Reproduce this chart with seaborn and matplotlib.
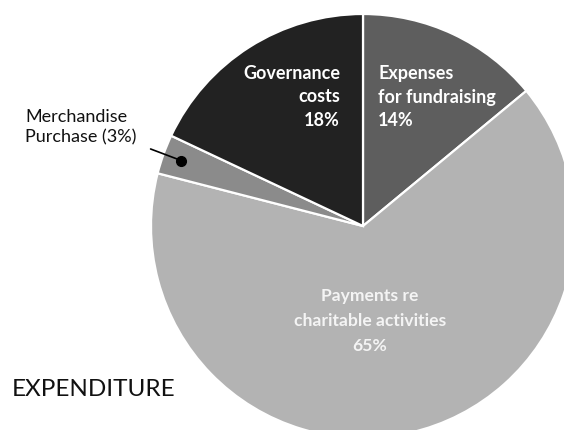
import numpy as np
import matplotlib
matplotlib.use("Agg")
import matplotlib.pyplot as plt
import seaborn as sns

# Data (clockwise from 12 o'clock)
categories = ["Expenses for fundraising", "Payments re charitable activities",
              "Merchandise Purchase", "Governance costs"]
shares = [14, 65, 3, 18]
colors = ["#5e5e5e", "#b3b3b3", "#8b8b8b", "#222222"]


def main():
    sns.set_theme(style="white")
    plt.rcParams["font.family"] = ["Lato", "DejaVu Sans"]

    W, H = 564, 430
    fig = plt.figure(figsize=(W / 100, H / 100), dpi=100)
    ax = fig.add_axes([0, 0, 1, 1])

    ax.pie(shares, colors=colors, startangle=90, counterclock=False,
           radius=1, wedgeprops=dict(edgecolor="white", linewidth=1.6))

    # pie centre at (363, 226) px, radius 212 px; edges clipped by the canvas
    cx, cy, r = 363, 226, 212
    ax.set_xlim(-cx / r, (W - cx) / r)
    ax.set_ylim(-(H - cy) / r, cy / r)
    ax.set_aspect("auto")
    ax.axis("off")

    def fx(x):
        return x / W

    def fy(y):
        return 1 - y / H

    bold = dict(fontsize=13, fontweight="bold", color="white",
                linespacing=1.45)
    fig.text(fx(340), fy(97), "Governance\ncosts\n18%", ha="right",
             va="center", multialignment="right", **bold)
    fig.text(fx(378), fy(97), "Expenses\nfor fundraising\n14%", ha="left",
             va="center", multialignment="left", **bold)
    fig.text(fx(370), fy(321), "Payments re\ncharitable activities\n65%",
             ha="center", va="center", multialignment="center",
             fontsize=12.6, fontweight="bold", color="#f4f4f4",
             linespacing=1.7)

    # merchandise call-out
    fig.text(fx(25), fy(127), "Merchandise\nPurchase (3%)", ha="left",
             va="center", fontsize=13, color="#111111", linespacing=1.3)
    cum = np.cumsum([0] + shares)
    mid = 90 - (cum[2] + shares[2] / 2) / 100 * 360
    dot = (0.91 * np.cos(np.radians(mid)), 0.91 * np.sin(np.radians(mid)))
    ax.annotate("", xy=dot, xytext=((148 - cx) / r, (cy - 148) / r),
                arrowprops=dict(arrowstyle="-", color="black", lw=1.2))
    ax.plot(*dot, "o", color="black", markersize=7)

    fig.text(fx(12), fy(389), "EXPENDITURE", ha="left", va="center",
             fontsize=17.5, color="#111111")

    fig.savefig("out.png", dpi=100)
    plt.close(fig)


if __name__ == "__main__":
    main()
